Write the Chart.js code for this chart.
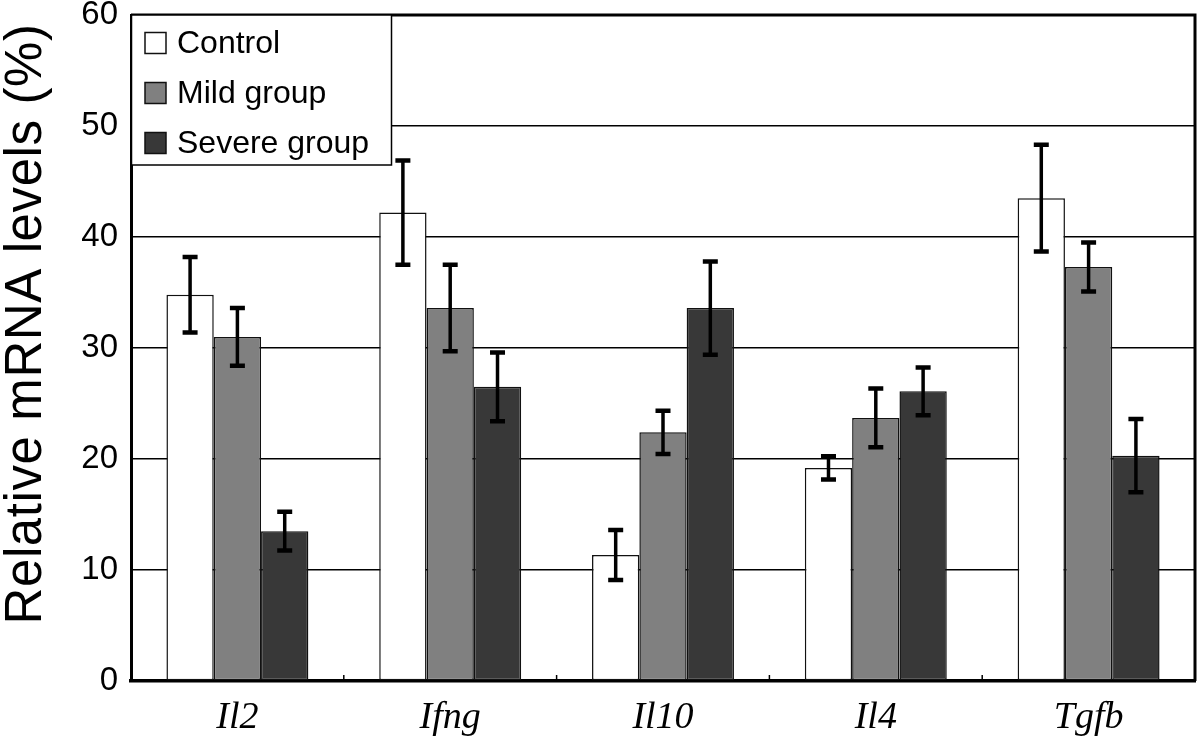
<!DOCTYPE html>
<html>
<head>
<meta charset="utf-8">
<script src="https://cdn.jsdelivr.net/npm/chart.js@4.4.0/dist/chart.umd.min.js"></script>
<style>
  html, body { margin: 0; padding: 0; background: #fff; }
  #wrap { width: 1200px; height: 741px; position: relative; }
</style>
</head>
<body>
<div id="wrap"><canvas id="c" width="1200" height="741"></canvas></div>
<script>
const categories = ['Il2', 'Ifng', 'Il10', 'Il4', 'Tgfb'];
const seriesNames = ['Control', 'Mild group', 'Severe group'];
const control = [34.8, 42.2, 11.35, 19.2, 43.5];
const controlErr = [3.4, 4.7, 2.25, 1.05, 4.8];
const mild = [31.0, 33.6, 22.4, 23.7, 37.3];
const mildErr = [2.6, 3.9, 1.95, 2.65, 2.2];
const severe = [13.5, 26.5, 33.6, 26.1, 20.3];
const severeErr = [1.75, 3.1, 4.2, 2.15, 3.3];
const yTicks = [0, 10, 20, 30, 40, 50, 60];
const yTitle = 'Relative mRNA levels (%)';

const colors = ['#ffffff', '#808080', '#383838'];
const SANS = '"Liberation Sans", Arial, sans-serif';

const errorBars = {
  id: 'errorBars',
  afterDatasetsDraw(chart) {
    const ctx = chart.ctx;
    const ys = chart.scales.y;
    ctx.save();
    ctx.strokeStyle = '#000';
    chart.data.datasets.forEach((ds, di) => {
      const meta = chart.getDatasetMeta(di);
      meta.data.forEach((bar, i) => {
        const v = ds.data[i], e = ds.errors[i];
        const yt = ys.getPixelForValue(v + e);
        const yb = ys.getPixelForValue(v - e);
        const x = bar.x;
        ctx.lineWidth = 3.5;
        ctx.beginPath();
        ctx.moveTo(x, yt); ctx.lineTo(x, yb);
        ctx.stroke();
        ctx.lineWidth = 4.5;
        ctx.beginPath();
        ctx.moveTo(x - 7.5, yt); ctx.lineTo(x + 7.5, yt);
        ctx.moveTo(x - 7.5, yb); ctx.lineTo(x + 7.5, yb);
        ctx.stroke();
      });
    });
    ctx.restore();
  }
};

const frameAndLegend = {
  id: 'frameAndLegend',
  afterDraw(chart) {
    const ctx = chart.ctx;
    const a = chart.chartArea;
    const xs = chart.scales.x;
    ctx.save();
    ctx.strokeStyle = '#000';
    ctx.lineWidth = 1.5;
    for (let i = 0; i < categories.length - 1; i++) {
      const xb = (xs.getPixelForTick(i) + xs.getPixelForTick(i + 1)) / 2;
      ctx.beginPath();
      ctx.moveTo(xb, a.bottom); ctx.lineTo(xb, a.bottom - 6);
      ctx.stroke();
    }
    ctx.lineWidth = 3;
    ctx.beginPath();
    ctx.moveTo(a.left, a.top); ctx.lineTo(a.right, a.top); ctx.lineTo(a.right, a.bottom);
    ctx.stroke();
    const lx = a.left, ly = a.top, lw = 260, lh = 150;
    ctx.fillStyle = '#fff';
    ctx.fillRect(lx, ly, lw, lh);
    ctx.lineWidth = 1.5;
    ctx.strokeRect(lx + 0.5, ly, lw, lh);
    ctx.font = '32px ' + SANS;
    ctx.textBaseline = 'middle';
    ctx.textAlign = 'left';
    seriesNames.forEach((name, i) => {
      const cy = ly + 28 + i * 50;
      ctx.fillStyle = colors[i];
      ctx.fillRect(lx + 14, cy - 10.5, 21, 21);
      ctx.strokeStyle = '#111';
      ctx.lineWidth = 1.5;
      ctx.strokeRect(lx + 14, cy - 10.5, 21, 21);
      ctx.fillStyle = '#000';
      ctx.fillText(name, lx + 46, cy + 1);
    });
    ctx.translate(27, (a.top + a.bottom) / 2 - 24);
    ctx.rotate(-Math.PI / 2);
    ctx.font = '51px ' + SANS;
    ctx.textAlign = 'center';
    ctx.textBaseline = 'middle';
    ctx.fillStyle = '#000';
    if ('letterSpacing' in ctx) ctx.letterSpacing = '0.6px';
    ctx.fillText(yTitle, 0, 0);
    ctx.restore();
  }
};

new Chart(document.getElementById('c'), {
  type: 'bar',
  data: {
    labels: categories,
    datasets: [
      { label: seriesNames[0], data: control, errors: controlErr, backgroundColor: colors[0] },
      { label: seriesNames[1], data: mild, errors: mildErr, backgroundColor: colors[1] },
      { label: seriesNames[2], data: severe, errors: severeErr, backgroundColor: colors[2] }
    ].map(d => Object.assign(d, { borderColor: '#111', borderWidth: 1.5, borderSkipped: false, categoryPercentage: 0.667, barPercentage: 1.0 }))
  },
  options: {
    responsive: false,
    animation: false,
    devicePixelRatio: 1,
    layout: { padding: { top: 15, right: 5, left: 0, bottom: 0 } },
    plugins: { legend: { display: false }, tooltip: { enabled: false } },
    scales: {
      x: {
        grid: { display: true, drawOnChartArea: false, drawTicks: false },
        border: { display: true, color: '#000', width: 3.5 },
        ticks: {
          color: '#000',
          padding: 14,
          font: { family: '"Liberation Serif", "Times New Roman", serif', style: 'italic', size: 38 }
        },
        afterFit(s) { s.height = 60; s.paddingLeft = 0; s.paddingRight = 0; }
      },
      y: {
        min: 0, max: 60,
        afterBuildTicks(s) { s.ticks = yTicks.map(v => ({ value: v })); },
        grid: {
          drawTicks: false,
          color: c => (c.tick && (c.tick.value === 0 || c.tick.value === 60)) ? 'rgba(0,0,0,0)' : '#000',
          lineWidth: 1.5
        },
        border: { display: true, color: '#000', width: 3 },
        ticks: {
          color: '#000',
          padding: 13,
          font: { family: SANS, size: 33, lineHeight: 1 }
        },
        afterFit(s) { s.width = 131; s.paddingTop = 0; s.paddingBottom = 0; }
      }
    }
  },
  plugins: [errorBars, frameAndLegend]
});
</script>
</body>
</html>
